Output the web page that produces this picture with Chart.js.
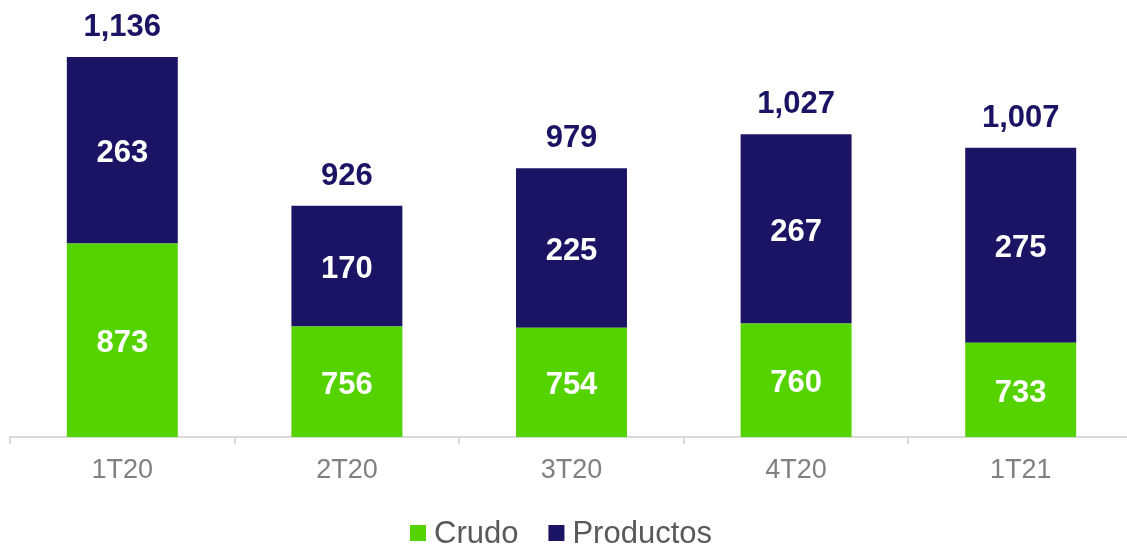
<!DOCTYPE html>
<html>
<head>
<meta charset="utf-8">
<script src="https://cdn.jsdelivr.net/npm/chart.js@4.4.1/dist/chart.umd.min.js"></script>
<style>
  html, body { margin: 0; padding: 0; overflow: hidden; background: #ffffff; }
  #wrap { width: 1136px; height: 544px; }
</style>
</head>
<body>
<div id="wrap"><canvas id="c" width="1136" height="544"></canvas></div>
<script>
const categories = ['1T20', '2T20', '3T20', '4T20', '1T21'];
const crudo = [873, 756, 754, 760, 733];
const productos = [263, 170, 225, 267, 275];
const totals = [1136, 926, 979, 1027, 1007];
const yMin = 600;
const yMax = 1200;

const GREEN = '#55d300';
const NAVY = '#1b1363';
const FONT = '"Liberation Sans", Arial, Helvetica, sans-serif';

const fmt = v => v.toLocaleString('en-US');

const labelsPlugin = {
  id: 'barLabels',
  afterDatasetsDraw(chart) {
    const ctx = chart.ctx;
    const area = chart.chartArea;
    ctx.save();
    ctx.textAlign = 'center';
    ctx.textBaseline = 'alphabetic';
    ctx.font = 'bold 31px ' + FONT;
    chart.data.datasets.forEach((ds, di) => {
      const meta = chart.getDatasetMeta(di);
      meta.data.forEach((bar, i) => {
        const top = Math.max(bar.y, area.top);
        const bottom = Math.min(bar.base, area.bottom);
        const cy = (top + bottom) / 2;
        ctx.fillStyle = '#ffffff';
        ctx.fillText(fmt(ds.data[i]), bar.x, cy + 12);
      });
    });
    const lastMeta = chart.getDatasetMeta(chart.data.datasets.length - 1);
    ctx.fillStyle = NAVY;
    lastMeta.data.forEach((bar, i) => {
      ctx.fillText(fmt(totals[i]), bar.x, bar.y - 21);
    });
    ctx.restore();
  }
};

const legendPlugin = {
  id: 'customLegend',
  afterDraw(chart) {
    const ctx = chart.ctx;
    ctx.save();
    ctx.font = '31px ' + FONT;
    ctx.textBaseline = 'middle';
    ctx.textAlign = 'left';
    const box = 16, gapText = 8, gapItem = 30;
    const items = chart.data.datasets.map(ds => ({ label: ds.label, color: ds.backgroundColor, w: ctx.measureText(ds.label).width }));
    let total = 0;
    items.forEach((it, k) => { total += box + gapText + it.w + (k ? gapItem : 0); });
    const cx = 561, cy = 533;
    let x = cx - total / 2;
    items.forEach((it, k) => {
      if (k) x += gapItem;
      ctx.fillStyle = it.color;
      ctx.fillRect(x, cy - box / 2, box, box);
      x += box + gapText;
      ctx.fillStyle = '#595959';
      ctx.fillText(it.label, x, cy + 1);
      x += it.w;
    });
    ctx.restore();
  }
};

new Chart(document.getElementById('c'), {
  type: 'bar',
  data: {
    labels: categories,
    datasets: [
      { label: 'Crudo', data: crudo, backgroundColor: GREEN, borderWidth: 0 },
      { label: 'Productos', data: productos, backgroundColor: NAVY, borderWidth: 0 }
    ]
  },
  options: {
    responsive: false,
    animation: false,
    devicePixelRatio: 1,
    layout: { padding: { top: 11.5, left: 10, right: 3, bottom: 47.5 } },
    datasets: { bar: { categoryPercentage: 1.0, barPercentage: 0.494 } },
    plugins: { legend: { display: false }, tooltip: { enabled: false } },
    scales: {
      x: {
        stacked: true,
        grid: { drawOnChartArea: false, drawTicks: true, tickLength: 7, color: '#d9d9d9', lineWidth: 2, offset: true },
        border: { color: '#d9d9d9', width: 2 },
        ticks: { color: '#808080', font: { family: FONT, size: 27 }, padding: 10 }
      },
      y: {
        stacked: true,
        display: false,
        min: yMin,
        max: yMax
      }
    }
  },
  plugins: [labelsPlugin, legendPlugin]
});
</script>
</body>
</html>
